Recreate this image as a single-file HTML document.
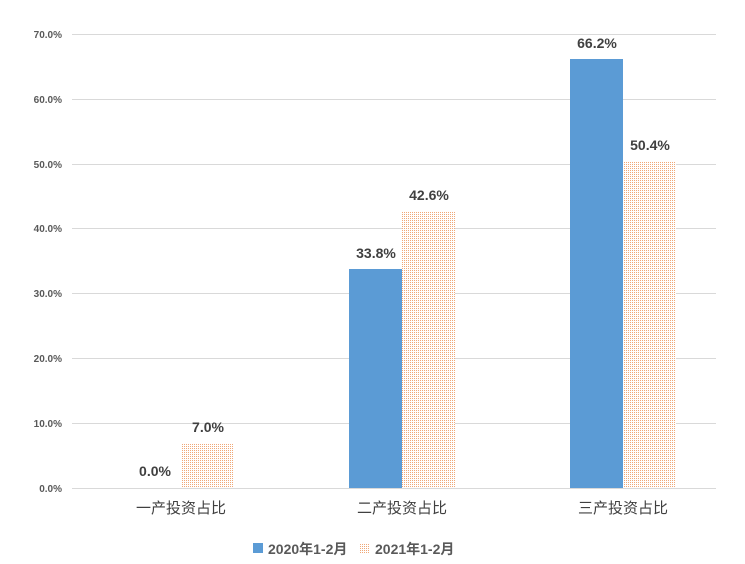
<!DOCTYPE html>
<html><head><meta charset="utf-8"><style>
body{margin:0;background:#fff}
svg text{font-family:"Liberation Sans","Noto Sans CJK SC",sans-serif}
</style></head><body>
<svg width="745" height="559" xmlns="http://www.w3.org/2000/svg">
<defs>
<pattern id="dots" width="2" height="2" patternUnits="userSpaceOnUse">
<rect width="2" height="2" fill="#fff"/>
<rect width="1" height="1" fill="#F0A878"/>
</pattern>
</defs>
<g stroke="#d9d9d9" stroke-width="1">
<line x1="72" x2="716" y1="34.5" y2="34.5"/>
<line x1="72" x2="716" y1="99.5" y2="99.5"/>
<line x1="72" x2="716" y1="164.5" y2="164.5"/>
<line x1="72" x2="716" y1="228.5" y2="228.5"/>
<line x1="72" x2="716" y1="293.5" y2="293.5"/>
<line x1="72" x2="716" y1="358.5" y2="358.5"/>
<line x1="72" x2="716" y1="423.5" y2="423.5"/>
<line x1="72" x2="716" y1="488.5" y2="488.5"/>
</g>
<g font-size="10" font-weight="bold" fill="#595959" text-anchor="end">
<text x="62" y="38">70.0%</text>
<text x="62" y="103">60.0%</text>
<text x="62" y="168">50.0%</text>
<text x="62" y="232">40.0%</text>
<text x="62" y="297">30.0%</text>
<text x="62" y="362">20.0%</text>
<text x="62" y="427">10.0%</text>
<text x="62" y="492">0.0%</text>
</g>
<rect x="181" y="443" width="53" height="45" fill="url(#dots)"/>
<rect x="349" y="269" width="53" height="219" fill="#5B9BD5"/>
<rect x="402" y="212" width="53" height="276" fill="url(#dots)"/>
<rect x="570" y="59" width="53" height="429" fill="#5B9BD5"/>
<rect x="623" y="161" width="53" height="327" fill="url(#dots)"/>
<g font-size="14" font-weight="bold" fill="#404040" text-anchor="middle">
<text x="155" y="476">0.0%</text>
<text x="208" y="432">7.0%</text>
<text x="376" y="258">33.8%</text>
<text x="429" y="200">42.6%</text>
<text x="597" y="48">66.2%</text>
<text x="650" y="150">50.4%</text>
</g>
<g font-size="15" fill="#404040" text-anchor="middle">
<text x="181" y="513">一产投资占比</text>
<text x="402" y="513">二产投资占比</text>
<text x="623" y="513">三产投资占比</text>
</g>
<rect x="253" y="543" width="10" height="10" fill="#5B9BD5"/>
<rect x="360" y="543" width="10" height="10" fill="url(#dots)"/>
<g font-size="14" font-weight="bold" fill="#595959">
<text x="268" y="554">2020年1-2月</text>
<text x="375" y="554">2021年1-2月</text>
</g>
</svg>
</body></html>
